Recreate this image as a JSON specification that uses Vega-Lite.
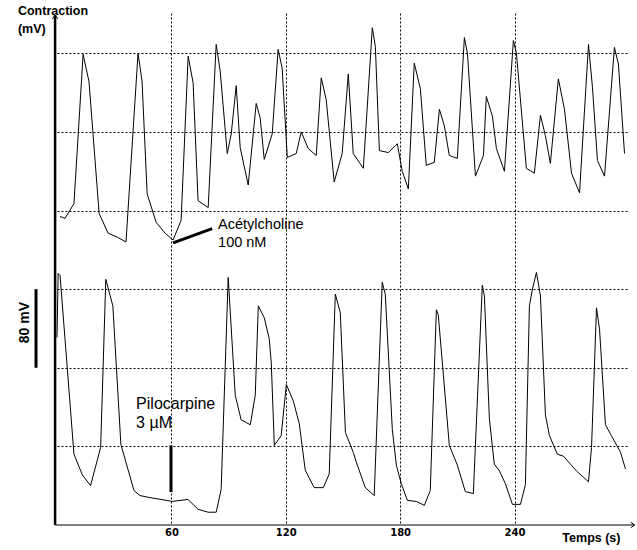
{
  "$schema": "https://vega.github.io/schema/vega-lite/v6.json",
  "width": 570,
  "height": 512,
  "autosize": {"type": "none"},
  "padding": {"left": 57, "top": 13, "right": 10, "bottom": 25},
  "background": "white",
  "config": {"view": {"stroke": null}, "font": "Liberation Sans"},
  "datasets": {
    "traces": [
      {"trace": "Acétylcholine", "t": 1.6, "v": 314}, {"trace": "Acétylcholine", "t": 4.2, "v": 312}, {"trace": "Acétylcholine", "t": 8.9, "v": 327}, {"trace": "Acétylcholine", "t": 13.7, "v": 479}, {"trace": "Acétylcholine", "t": 16.8, "v": 451}, {"trace": "Acétylcholine", "t": 22.1, "v": 317}, {"trace": "Acétylcholine", "t": 26.8, "v": 297}, {"trace": "Acétylcholine", "t": 31.5, "v": 293}, {"trace": "Acétylcholine", "t": 36.2, "v": 288}, {"trace": "Acétylcholine", "t": 42.5, "v": 480}, {"trace": "Acétylcholine", "t": 44.6, "v": 452}, {"trace": "Acétylcholine", "t": 47.3, "v": 337}, {"trace": "Acétylcholine", "t": 52.0, "v": 308}, {"trace": "Acétylcholine", "t": 56.7, "v": 297}, {"trace": "Acétylcholine", "t": 60.9, "v": 290}, {"trace": "Acétylcholine", "t": 65.1, "v": 310}, {"trace": "Acétylcholine", "t": 68.8, "v": 477}, {"trace": "Acétylcholine", "t": 71.4, "v": 450}, {"trace": "Acétylcholine", "t": 74.0, "v": 330}, {"trace": "Acétylcholine", "t": 79.3, "v": 323}, {"trace": "Acétylcholine", "t": 83.5, "v": 489}, {"trace": "Acétylcholine", "t": 85.6, "v": 462}, {"trace": "Acétylcholine", "t": 89.3, "v": 378}, {"trace": "Acétylcholine", "t": 91.4, "v": 398}, {"trace": "Acétylcholine", "t": 94.0, "v": 447}, {"trace": "Acétylcholine", "t": 96.1, "v": 384}, {"trace": "Acétylcholine", "t": 100.3, "v": 346}, {"trace": "Acétylcholine", "t": 104.5, "v": 429}, {"trace": "Acétylcholine", "t": 106.6, "v": 414}, {"trace": "Acétylcholine", "t": 108.7, "v": 372}, {"trace": "Acétylcholine", "t": 112.9, "v": 398}, {"trace": "Acétylcholine", "t": 116.0, "v": 484}, {"trace": "Acétylcholine", "t": 118.1, "v": 465}, {"trace": "Acétylcholine", "t": 120.8, "v": 374}, {"trace": "Acétylcholine", "t": 125.5, "v": 378}, {"trace": "Acétylcholine", "t": 128.1, "v": 400}, {"trace": "Acétylcholine", "t": 131.8, "v": 383}, {"trace": "Acétylcholine", "t": 136.0, "v": 376}, {"trace": "Acétylcholine", "t": 138.6, "v": 455}, {"trace": "Acétylcholine", "t": 141.2, "v": 433}, {"trace": "Acétylcholine", "t": 145.4, "v": 349}, {"trace": "Acétylcholine", "t": 149.6, "v": 378}, {"trace": "Acétylcholine", "t": 152.8, "v": 459}, {"trace": "Acétylcholine", "t": 155.4, "v": 378}, {"trace": "Acétylcholine", "t": 160.7, "v": 363}, {"trace": "Acétylcholine", "t": 165.4, "v": 506}, {"trace": "Acétylcholine", "t": 167.0, "v": 487}, {"trace": "Acétylcholine", "t": 169.1, "v": 381}, {"trace": "Acétylcholine", "t": 173.8, "v": 379}, {"trace": "Acétylcholine", "t": 178.5, "v": 388}, {"trace": "Acétylcholine", "t": 181.1, "v": 360}, {"trace": "Acétylcholine", "t": 184.3, "v": 342}, {"trace": "Acétylcholine", "t": 187.4, "v": 470}, {"trace": "Acétylcholine", "t": 190.6, "v": 444}, {"trace": "Acétylcholine", "t": 193.7, "v": 366}, {"trace": "Acétylcholine", "t": 197.9, "v": 369}, {"trace": "Acétylcholine", "t": 200.6, "v": 423}, {"trace": "Acétylcholine", "t": 203.2, "v": 406}, {"trace": "Acétylcholine", "t": 205.8, "v": 376}, {"trace": "Acétylcholine", "t": 210.0, "v": 373}, {"trace": "Acétylcholine", "t": 213.7, "v": 496}, {"trace": "Acétylcholine", "t": 215.3, "v": 480}, {"trace": "Acétylcholine", "t": 219.5, "v": 355}, {"trace": "Acétylcholine", "t": 223.7, "v": 376}, {"trace": "Acétylcholine", "t": 225.2, "v": 436}, {"trace": "Acétylcholine", "t": 228.4, "v": 416}, {"trace": "Acétylcholine", "t": 230.5, "v": 383}, {"trace": "Acétylcholine", "t": 234.7, "v": 360}, {"trace": "Acétylcholine", "t": 239.4, "v": 493}, {"trace": "Acétylcholine", "t": 241.0, "v": 480}, {"trace": "Acétylcholine", "t": 246.2, "v": 363}, {"trace": "Acétylcholine", "t": 250.4, "v": 358}, {"trace": "Acétylcholine", "t": 253.6, "v": 417}, {"trace": "Acétylcholine", "t": 256.2, "v": 396}, {"trace": "Acétylcholine", "t": 258.8, "v": 368}, {"trace": "Acétylcholine", "t": 263.0, "v": 454}, {"trace": "Acétylcholine", "t": 266.2, "v": 423}, {"trace": "Acétylcholine", "t": 269.9, "v": 358}, {"trace": "Acétylcholine", "t": 274.1, "v": 338}, {"trace": "Acétylcholine", "t": 278.8, "v": 489}, {"trace": "Acétylcholine", "t": 280.9, "v": 445}, {"trace": "Acétylcholine", "t": 283.5, "v": 371}, {"trace": "Acétylcholine", "t": 287.2, "v": 355}, {"trace": "Acétylcholine", "t": 292.4, "v": 486}, {"trace": "Acétylcholine", "t": 294.5, "v": 469}, {"trace": "Acétylcholine", "t": 297.7, "v": 378},
      {"trace": "Pilocarpine", "t": 0, "v": 191}, {"trace": "Pilocarpine", "t": 0.6, "v": 256}, {"trace": "Pilocarpine", "t": 1.6, "v": 254}, {"trace": "Pilocarpine", "t": 8.9, "v": 72}, {"trace": "Pilocarpine", "t": 13.3, "v": 51}, {"trace": "Pilocarpine", "t": 17.6, "v": 40}, {"trace": "Pilocarpine", "t": 22.9, "v": 79}, {"trace": "Pilocarpine", "t": 25.6, "v": 250}, {"trace": "Pilocarpine", "t": 29.3, "v": 223}, {"trace": "Pilocarpine", "t": 33.5, "v": 82}, {"trace": "Pilocarpine", "t": 40.4, "v": 35}, {"trace": "Pilocarpine", "t": 43.5, "v": 30}, {"trace": "Pilocarpine", "t": 48.3, "v": 28}, {"trace": "Pilocarpine", "t": 54.6, "v": 26}, {"trace": "Pilocarpine", "t": 60.4, "v": 24}, {"trace": "Pilocarpine", "t": 68.7, "v": 26}, {"trace": "Pilocarpine", "t": 74.0, "v": 16}, {"trace": "Pilocarpine", "t": 79.3, "v": 13}, {"trace": "Pilocarpine", "t": 83.5, "v": 13}, {"trace": "Pilocarpine", "t": 86.1, "v": 36}, {"trace": "Pilocarpine", "t": 89.8, "v": 252}, {"trace": "Pilocarpine", "t": 93.5, "v": 132}, {"trace": "Pilocarpine", "t": 96.6, "v": 107}, {"trace": "Pilocarpine", "t": 101.4, "v": 102}, {"trace": "Pilocarpine", "t": 104.0, "v": 132}, {"trace": "Pilocarpine", "t": 105.6, "v": 223}, {"trace": "Pilocarpine", "t": 108.7, "v": 211}, {"trace": "Pilocarpine", "t": 111.3, "v": 190}, {"trace": "Pilocarpine", "t": 112.4, "v": 165}, {"trace": "Pilocarpine", "t": 114.0, "v": 81}, {"trace": "Pilocarpine", "t": 117.6, "v": 91}, {"trace": "Pilocarpine", "t": 120.3, "v": 143}, {"trace": "Pilocarpine", "t": 124.0, "v": 126}, {"trace": "Pilocarpine", "t": 127.1, "v": 103}, {"trace": "Pilocarpine", "t": 130.2, "v": 56}, {"trace": "Pilocarpine", "t": 134.9, "v": 38}, {"trace": "Pilocarpine", "t": 139.7, "v": 38}, {"trace": "Pilocarpine", "t": 142.8, "v": 52}, {"trace": "Pilocarpine", "t": 146.0, "v": 235}, {"trace": "Pilocarpine", "t": 148.6, "v": 216}, {"trace": "Pilocarpine", "t": 151.3, "v": 94}, {"trace": "Pilocarpine", "t": 155.4, "v": 74}, {"trace": "Pilocarpine", "t": 157.0, "v": 64}, {"trace": "Pilocarpine", "t": 161.7, "v": 38}, {"trace": "Pilocarpine", "t": 166.4, "v": 30}, {"trace": "Pilocarpine", "t": 170.6, "v": 247}, {"trace": "Pilocarpine", "t": 172.2, "v": 235}, {"trace": "Pilocarpine", "t": 175.9, "v": 97}, {"trace": "Pilocarpine", "t": 178.0, "v": 61}, {"trace": "Pilocarpine", "t": 180.6, "v": 42}, {"trace": "Pilocarpine", "t": 183.8, "v": 25}, {"trace": "Pilocarpine", "t": 188.5, "v": 24}, {"trace": "Pilocarpine", "t": 192.7, "v": 20}, {"trace": "Pilocarpine", "t": 195.8, "v": 35}, {"trace": "Pilocarpine", "t": 199.0, "v": 219}, {"trace": "Pilocarpine", "t": 200.0, "v": 214}, {"trace": "Pilocarpine", "t": 205.8, "v": 81}, {"trace": "Pilocarpine", "t": 210.0, "v": 61}, {"trace": "Pilocarpine", "t": 214.2, "v": 34}, {"trace": "Pilocarpine", "t": 218.4, "v": 32}, {"trace": "Pilocarpine", "t": 223.1, "v": 244}, {"trace": "Pilocarpine", "t": 224.2, "v": 233}, {"trace": "Pilocarpine", "t": 226.8, "v": 108}, {"trace": "Pilocarpine", "t": 229.4, "v": 62}, {"trace": "Pilocarpine", "t": 232.1, "v": 55}, {"trace": "Pilocarpine", "t": 235.2, "v": 42}, {"trace": "Pilocarpine", "t": 238.9, "v": 21}, {"trace": "Pilocarpine", "t": 243.1, "v": 21}, {"trace": "Pilocarpine", "t": 245.7, "v": 41}, {"trace": "Pilocarpine", "t": 247.8, "v": 223}, {"trace": "Pilocarpine", "t": 249.4, "v": 240}, {"trace": "Pilocarpine", "t": 251.5, "v": 257}, {"trace": "Pilocarpine", "t": 253.6, "v": 233}, {"trace": "Pilocarpine", "t": 256.2, "v": 112}, {"trace": "Pilocarpine", "t": 258.3, "v": 91}, {"trace": "Pilocarpine", "t": 262.5, "v": 72}, {"trace": "Pilocarpine", "t": 265.7, "v": 70}, {"trace": "Pilocarpine", "t": 269.3, "v": 62}, {"trace": "Pilocarpine", "t": 272.5, "v": 55}, {"trace": "Pilocarpine", "t": 278.8, "v": 44}, {"trace": "Pilocarpine", "t": 280.4, "v": 79}, {"trace": "Pilocarpine", "t": 283.0, "v": 221}, {"trace": "Pilocarpine", "t": 284.6, "v": 199}, {"trace": "Pilocarpine", "t": 287.7, "v": 102}, {"trace": "Pilocarpine", "t": 290.8, "v": 91}, {"trace": "Pilocarpine", "t": 295.6, "v": 74}, {"trace": "Pilocarpine", "t": 298.2, "v": 57}
    ],
    "thickRules": [
      {"name": "acetylcholine", "t": 60.9, "v": 287, "t2": 81.4, "v2": 301.5},
      {"name": "pilocarpine", "t": 59.8, "v": 33.5, "t2": 59.8, "v2": 81},
      {"name": "scale", "t": -11, "v": 160, "t2": -11, "v2": 240}
    ]
  },
  "encoding": {
    "x": {"field": "t", "type": "quantitative", "scale": {"domain": [0, 299], "nice": false, "zero": false},
      "axis": {"values": [60, 120, 180, 240], "grid": true, "gridColor": "black", "gridDash": [2, 2], "gridOpacity": 1, "gridWidth": 1, "domain": false, "ticks": false, "labelFont": "DejaVu Sans", "labelFontWeight": "bold", "labelFontSize": 10, "labelColor": "black", "labelPadding": 2, "title": null}},
    "y": {"field": "v", "type": "quantitative", "scale": {"domain": [0, 521], "nice": false, "zero": false},
      "axis": {"values": [80, 160, 240, 320, 400, 480], "grid": true, "gridColor": "black", "gridDash": [2, 2], "gridOpacity": 1, "gridWidth": 1, "domain": false, "ticks": false, "labels": false, "title": null}}
  },
  "layer": [
    {
      "data": {"name": "traces"},
      "mark": {"type": "line", "color": "black", "strokeWidth": 1},
      "encoding": {"detail": {"field": "trace"}}
    },
    {
      "data": {"values": [{"t": -1, "v": 0, "t2": -1, "v2": 519}]},
      "mark": {"type": "rule", "color": "black", "strokeWidth": 2.5},
      "encoding": {"x2": {"field": "t2"}, "y2": {"field": "v2"}}
    },
    {
      "data": {"values": [{"t": -1, "v": 0, "t2": 303, "v2": 0}]},
      "mark": {"type": "rule", "color": "black", "strokeWidth": 1},
      "encoding": {"x2": {"field": "t2"}, "y2": {"field": "v2"}}
    },
    {
      "data": {"name": "thickRules"},
      "mark": {"type": "rule", "color": "black", "strokeWidth": 3},
      "encoding": {"x2": {"field": "t2"}, "y2": {"field": "v2"}}
    },
    {
      "data": {"values": [{"t": -1, "v": 519}]},
      "mark": {"type": "point", "shape": "M -0.7 1 L 0 0 L 0.7 1", "filled": false, "stroke": "black", "strokeWidth": 1, "size": 60, "opacity": 1}
    },
    {
      "data": {"values": [{"t": 303, "v": 0}]},
      "mark": {"type": "point", "shape": "M -1 -0.7 L 0 0 L -1 0.7", "filled": false, "stroke": "black", "strokeWidth": 1, "size": 60, "opacity": 1}
    },
    {
      "data": {"values": [{"t": -20.5, "v": 518.8}]},
      "mark": {"type": "text", "text": ["Contraction", "(mV)"], "align": "left", "baseline": "alphabetic", "font": "Liberation Sans", "fontWeight": "bold", "fontSize": 12.5, "lineHeight": 18, "color": "black"}
    },
    {
      "data": {"values": [{"t": 265.1, "v": -16.9}]},
      "mark": {"type": "text", "text": "Temps (s)", "align": "left", "baseline": "alphabetic", "font": "Liberation Sans", "fontWeight": "bold", "fontSize": 12.5, "color": "black"}
    },
    {
      "data": {"values": [{"t": -16.8, "v": 206}]},
      "mark": {"type": "text", "text": "80 mV", "align": "center", "baseline": "middle", "angle": 270, "font": "Liberation Sans", "fontWeight": "bold", "fontSize": 14, "color": "black"}
    },
    {
      "data": {"values": [{"t": 84.5, "v": 301.2}]},
      "mark": {"type": "text", "text": ["Acétylcholine", "100 nM"], "align": "left", "baseline": "alphabetic", "font": "Liberation Sans", "fontSize": 14.5, "lineHeight": 18.4, "color": "black"}
    },
    {
      "data": {"values": [{"t": 41.5, "v": 117.8}]},
      "mark": {"type": "text", "text": ["Pilocarpine", "3 µM"], "align": "left", "baseline": "alphabetic", "font": "Liberation Sans", "fontSize": 16, "lineHeight": 18.5, "color": "black"}
    }
  ]
}
